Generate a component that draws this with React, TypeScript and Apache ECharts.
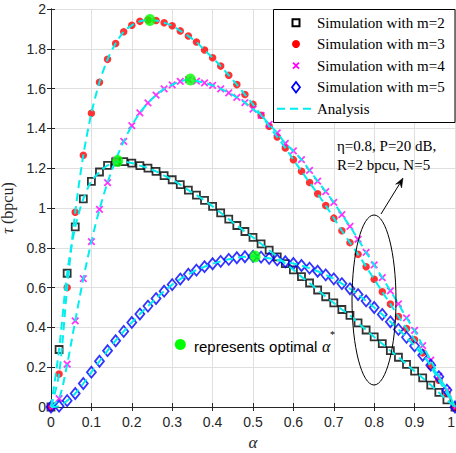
import React, { useEffect, useRef } from "react";
import * as echarts from "echarts";

const alpha = [0, 0.02, 0.04, 0.06, 0.08, 0.1, 0.12, 0.14, 0.16, 0.18, 0.2, 0.22, 0.24, 0.26, 0.28, 0.3, 0.32, 0.34, 0.36, 0.38, 0.4, 0.42, 0.44, 0.46, 0.48, 0.5, 0.52, 0.54, 0.56, 0.58, 0.6, 0.62, 0.64, 0.66, 0.68, 0.7, 0.72, 0.74, 0.76, 0.78, 0.8, 0.82, 0.84, 0.86, 0.88, 0.9, 0.92, 0.94, 0.96, 0.98, 1.0];

const tauM2 = [0, 0.289, 0.672, 0.905, 1.046, 1.134, 1.181, 1.214, 1.232, 1.233, 1.226, 1.213, 1.2, 1.184, 1.163, 1.142, 1.117, 1.09, 1.065, 1.038, 1.008, 0.976, 0.944, 0.912, 0.882, 0.852, 0.82, 0.788, 0.754, 0.72, 0.689, 0.655, 0.623, 0.588, 0.554, 0.523, 0.49, 0.46, 0.423, 0.387, 0.352, 0.318, 0.283, 0.25, 0.214, 0.18, 0.146, 0.11, 0.073, 0.036, 0];

const tauM3 = [0, 0.166, 0.6, 0.979, 1.265, 1.476, 1.632, 1.747, 1.827, 1.886, 1.918, 1.938, 1.945, 1.942, 1.931, 1.916, 1.89, 1.864, 1.834, 1.794, 1.755, 1.713, 1.667, 1.62, 1.57, 1.521, 1.466, 1.411, 1.357, 1.302, 1.243, 1.185, 1.128, 1.071, 1.012, 0.949, 0.886, 0.826, 0.767, 0.705, 0.642, 0.579, 0.517, 0.455, 0.394, 0.338, 0.272, 0.205, 0.135, 0.068, 0];

const tauM4 = [0, 0.042, 0.215, 0.433, 0.645, 0.831, 0.993, 1.128, 1.24, 1.335, 1.414, 1.478, 1.528, 1.567, 1.599, 1.619, 1.636, 1.645, 1.638, 1.629, 1.616, 1.599, 1.579, 1.556, 1.53, 1.497, 1.466, 1.42, 1.377, 1.325, 1.287, 1.243, 1.189, 1.135, 1.082, 1.028, 0.967, 0.908, 0.843, 0.777, 0.714, 0.65, 0.584, 0.518, 0.448, 0.385, 0.308, 0.235, 0.155, 0.084, 0];

const tauM5 = [0, 0.004, 0.032, 0.068, 0.118, 0.175, 0.23, 0.283, 0.333, 0.38, 0.425, 0.467, 0.507, 0.545, 0.582, 0.615, 0.643, 0.667, 0.688, 0.705, 0.72, 0.732, 0.742, 0.75, 0.755, 0.757, 0.753, 0.747, 0.739, 0.73, 0.721, 0.711, 0.698, 0.682, 0.664, 0.644, 0.62, 0.594, 0.565, 0.533, 0.5, 0.465, 0.428, 0.39, 0.35, 0.307, 0.26, 0.21, 0.152, 0.085, 0];

const optAlpha = [0.165, 0.245, 0.345, 0.505];
const optTau = [1.236, 1.945, 1.646, 0.756];

const legendLabels = ["Simulation with m=2", "Simulation with m=3", "Simulation with m=4", "Simulation with m=5", "Analysis"];
const noteLines = ["η=0.8, P=20 dB,", "R=2 bpcu, N=5"];

const AXIS = "#262626";
const CYAN = "#00eeee";
const SERIF = '"Liberation Serif", "Times New Roman", serif';
const SANS = '"Liberation Sans", Arial, sans-serif';

export default function App() {
  const ref = useRef<HTMLDivElement>(null);
  useEffect(() => {
    const chart = echarts.init(ref.current!, null, { renderer: "svg" });
    const pairs = (ys: number[]) => alpha.map((a, i) => [a, ys[i]]);
    const fmt = (v: number) => String(Math.round(v * 10) / 10);

    const baseX = {
      type: "value",
      min: 0,
      max: 1,
      interval: 0.1,
      axisLine: { show: true, lineStyle: { color: AXIS, width: 1 } },
      axisTick: { show: true, inside: true, length: 4, lineStyle: { color: AXIS } },
    };
    const baseY = {
      type: "value",
      min: 0,
      max: 2,
      interval: 0.2,
      axisLine: { show: true, lineStyle: { color: AXIS, width: 1 } },
      axisTick: { show: true, inside: true, length: 4, lineStyle: { color: AXIS } },
    };

    const scatter = (name: string, ys: number[], symbol: string, size: any, style: any) => ({
      name,
      type: "scatter",
      data: pairs(ys),
      symbol,
      symbolSize: size,
      itemStyle: style,
      silent: true,
      z: 2,
    });
    const analysis = (ys: number[]) => ({
      type: "line",
      data: pairs(ys),
      showSymbol: false,
      symbol: "none",
      smooth: 0.3,
      lineStyle: { color: CYAN, width: 2, type: [8, 5] },
      silent: true,
      z: 3,
    });

    const rowY = [22.7, 44, 65.7, 87.3, 108.7];
    const mx = 296;
    const graphic: any[] = [
      {
        type: "rect",
        shape: { x: 273.5, y: 9.5, width: 181.5, height: 113 },
        style: { fill: "#fff", stroke: "#000", lineWidth: 1 },
        z: 100,
      },
      {
        type: "rect",
        shape: { x: mx - 3.5, y: rowY[0] - 3.5, width: 7, height: 7 },
        style: { fill: "none", stroke: "#000", lineWidth: 2 },
        z: 101,
      },
      {
        type: "circle",
        shape: { cx: mx, cy: rowY[1], r: 4 },
        style: { fill: "#ff0000" },
        z: 101,
      },
      {
        type: "line",
        shape: { x1: mx - 3, y1: rowY[2] - 3, x2: mx + 3, y2: rowY[2] + 3 },
        style: { stroke: "#ff00ff", lineWidth: 1.8 },
        z: 101,
      },
      {
        type: "line",
        shape: { x1: mx + 3, y1: rowY[2] - 3, x2: mx - 3, y2: rowY[2] + 3 },
        style: { stroke: "#ff00ff", lineWidth: 1.8 },
        z: 101,
      },
      {
        type: "polygon",
        shape: { points: [[mx, rowY[3] - 5.3], [mx + 4, rowY[3]], [mx, rowY[3] + 5.3], [mx - 4, rowY[3]]] },
        style: { fill: "none", stroke: "#0000ff", lineWidth: 1.8 },
        z: 101,
      },
      {
        type: "line",
        shape: { x1: 277, y1: rowY[4], x2: 313, y2: rowY[4] },
        style: { stroke: CYAN, lineWidth: 2, lineDash: [8, 5] },
        z: 101,
      },
      ...legendLabels.map((t, i) => ({
        type: "text",
        x: 317,
        y: rowY[i],
        style: { text: t, fill: "#000", font: `15px ${SERIF}`, verticalAlign: "middle", align: "left" },
        z: 101,
      })),
      ...noteLines.map((t, i) => ({
        type: "text",
        x: 337,
        y: 145.5 + i * 19,
        style: { text: t, fill: "#000", font: `15px ${SERIF}`, verticalAlign: "middle", align: "left" },
        z: 101,
      })),
      {
        type: "ellipse",
        shape: { cx: 374, cy: 300, rx: 22, ry: 85 },
        style: { fill: "none", stroke: "#000", lineWidth: 1 },
        z: 90,
      },
      {
        type: "line",
        shape: { x1: 381, y1: 214, x2: 399.5, y2: 184 },
        style: { stroke: "#000", lineWidth: 1 },
        z: 90,
      },
      {
        type: "polygon",
        shape: { points: [[403, 178], [401.6, 188], [399.9, 183.3], [395.6, 184.2]] },
        style: { fill: "#000", stroke: "#000", lineWidth: 0.5 },
        z: 90,
      },
      {
        type: "circle",
        shape: { cx: 180.3, cy: 344.5, r: 5.5 },
        style: { fill: "#00ff00" },
        z: 90,
      },
      {
        type: "text",
        x: 194,
        y: 346,
        style: { text: "represents optimal", fill: "#000", font: `15px ${SANS}`, verticalAlign: "middle", align: "left" },
        z: 90,
      },
      {
        type: "text",
        x: 322,
        y: 346,
        style: { text: "α", fill: "#000", font: `italic 16px ${SERIF}`, verticalAlign: "middle", align: "left" },
        z: 90,
      },
      {
        type: "text",
        x: 330,
        y: 334,
        style: { text: "*", fill: "#000", font: `10px ${SERIF}`, verticalAlign: "middle", align: "left" },
        z: 90,
      },
    ];

    chart.setOption({
      animation: false,
      backgroundColor: "#fff",
      grid: { left: 51, right: 1, top: 9, bottom: 46, containLabel: false, outerBoundsMode: "none" },
      xAxis: [
        {
          ...baseX,
          position: "bottom",
          axisLabel: { color: AXIS, fontFamily: SANS, fontSize: 14, margin: 8, formatter: fmt, alignMaxLabel: "right" },
          splitLine: { show: true, lineStyle: { color: "#dfdfdf", width: 1 } },
          name: "α",
          nameLocation: "middle",
          nameGap: 22,
          nameTextStyle: { fontFamily: SERIF, fontStyle: "italic", fontSize: 17, color: AXIS },
        },
        {
          ...baseX,
          position: "top",
          axisLabel: { show: false },
          splitLine: { show: false },
        },
      ],
      yAxis: [
        {
          ...baseY,
          position: "left",
          axisLabel: { color: AXIS, fontFamily: SANS, fontSize: 14, margin: 5, formatter: fmt },
          splitLine: { show: true, lineStyle: { color: "#dfdfdf", width: 1 } },
          name: "{t|τ} (bpcu)",
          nameLocation: "middle",
          nameRotate: 90,
          nameGap: 28,
          nameTextStyle: {
            fontFamily: SERIF,
            fontSize: 16,
            color: AXIS,
            rich: { t: { fontFamily: SERIF, fontStyle: "italic", fontSize: 16, color: AXIS } },
          },
        },
        {
          ...baseY,
          position: "right",
          axisLabel: { show: false },
          splitLine: { show: false },
        },
      ],
      series: [
        scatter("Simulation with m=2", tauM2, "rect", 7, { color: "rgba(0,0,0,0)", borderColor: "#000", borderWidth: 1.8 }),
        scatter("Simulation with m=3", tauM3, "circle", 7.5, { color: "#ff0000" }),
        scatter("Simulation with m=4", tauM4, "path://M0,0L10,10M10,0L0,10", 6.5, { color: "rgba(0,0,0,0)", borderColor: "#ff00ff", borderWidth: 1.8 }),
        scatter("Simulation with m=5", tauM5, "diamond", [9, 11], { color: "rgba(0,0,0,0)", borderColor: "#0000ff", borderWidth: 1.8 }),
        analysis(tauM2),
        analysis(tauM3),
        analysis(tauM4),
        analysis(tauM5),
        {
          type: "scatter",
          data: optAlpha.map((a, i) => [a, optTau[i]]),
          symbol: "circle",
          symbolSize: [11, 12],
          itemStyle: { color: "#00ff00" },
          silent: true,
          z: 5,
        },
      ],
      graphic,
    });
    return () => chart.dispose();
  }, []);
  return <div ref={ref} style={{ position: "fixed", left: 0, top: 0, width: 456, height: 453 }} />;
}
